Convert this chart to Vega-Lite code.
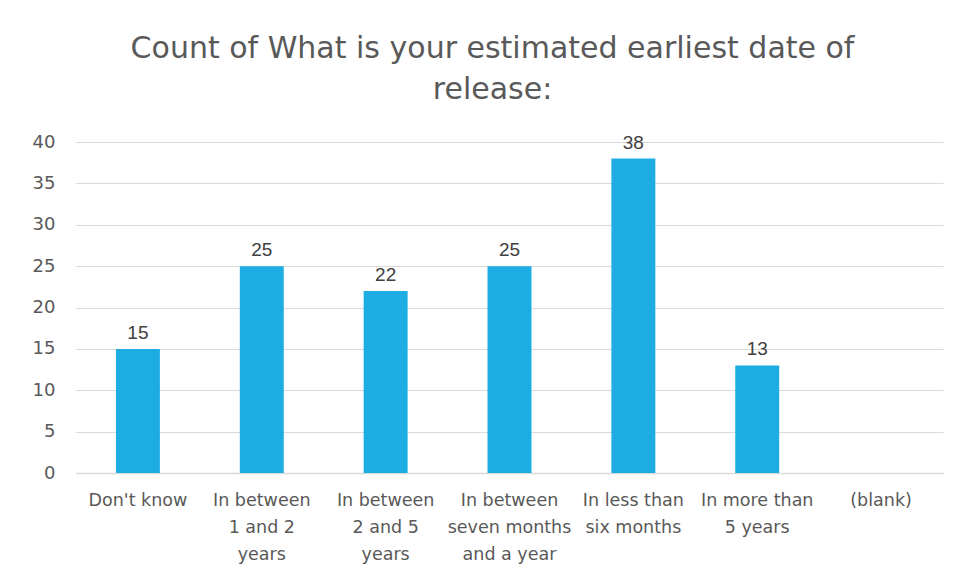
{
  "$schema": "https://vega.github.io/schema/vega-lite/v6.json",
  "width": 867,
  "height": 331,
  "autosize": {"type": "none"},
  "padding": {"left": 76, "top": 142, "right": 25, "bottom": 106},
  "background": "white",
  "title": {
    "text": ["Count of What is your estimated earliest date of", "release:"],
    "anchor": "middle",
    "dx": -17,
    "offset": 28,
    "fontSize": 30,
    "font": "DejaVu Sans",
    "fontWeight": "normal",
    "color": "#595959",
    "lineHeight": 41
  },
  "data": {
    "values": [
      {"category": "Don't know", "count": 15},
      {"category": "In between\n1 and 2\nyears", "count": 25},
      {"category": "In between\n2 and 5\nyears", "count": 22},
      {"category": "In between\nseven months\nand a year", "count": 25},
      {"category": "In less than\nsix months", "count": 38},
      {"category": "In more than\n5 years", "count": 13},
      {"category": "(blank)", "count": null}
    ]
  },
  "encoding": {
    "x": {
      "field": "category",
      "type": "nominal",
      "sort": null,
      "scale": {
        "domain": ["Don't know", "In between\n1 and 2\nyears", "In between\n2 and 5\nyears", "In between\nseven months\nand a year", "In less than\nsix months", "In more than\n5 years", "(blank)"],
        "paddingInner": 0.645,
        "paddingOuter": 0.3225
      },
      "axis": {
        "title": null,
        "labelAngle": 0,
        "labelExpr": "split(datum.label, '\\n')",
        "labelFont": "DejaVu Sans",
        "labelFontSize": 17.5,
        "labelColor": "#595959",
        "labelLineHeight": 27,
        "labelPadding": 18,
        "labelBaseline": "top",
        "ticks": false,
        "domainColor": "#d9d9d9",
        "domainWidth": 1.5,
        "labelLimit": 0
      }
    },
    "y": {
      "field": "count",
      "type": "quantitative",
      "scale": {"domain": [0, 40]},
      "axis": {
        "title": null,
        "values": [0, 5, 10, 15, 20, 25, 30, 35, 40],
        "labelFont": "DejaVu Sans",
        "labelFontSize": 18,
        "labelColor": "#595959",
        "labelPadding": 21,
        "ticks": false,
        "domain": false,
        "gridColor": "#d9d9d9",
        "gridWidth": 1
      }
    }
  },
  "layer": [
    {"mark": {"type": "bar", "color": "#1eade3"}},
    {
      "transform": [{"filter": "datum.count != null"}],
      "mark": {"type": "text", "baseline": "bottom", "dy": -6, "font": "Liberation Sans", "fontSize": 19, "color": "#404040"},
      "encoding": {"text": {"field": "count", "type": "quantitative"}}
    }
  ],
  "config": {"view": {"stroke": null}}
}
